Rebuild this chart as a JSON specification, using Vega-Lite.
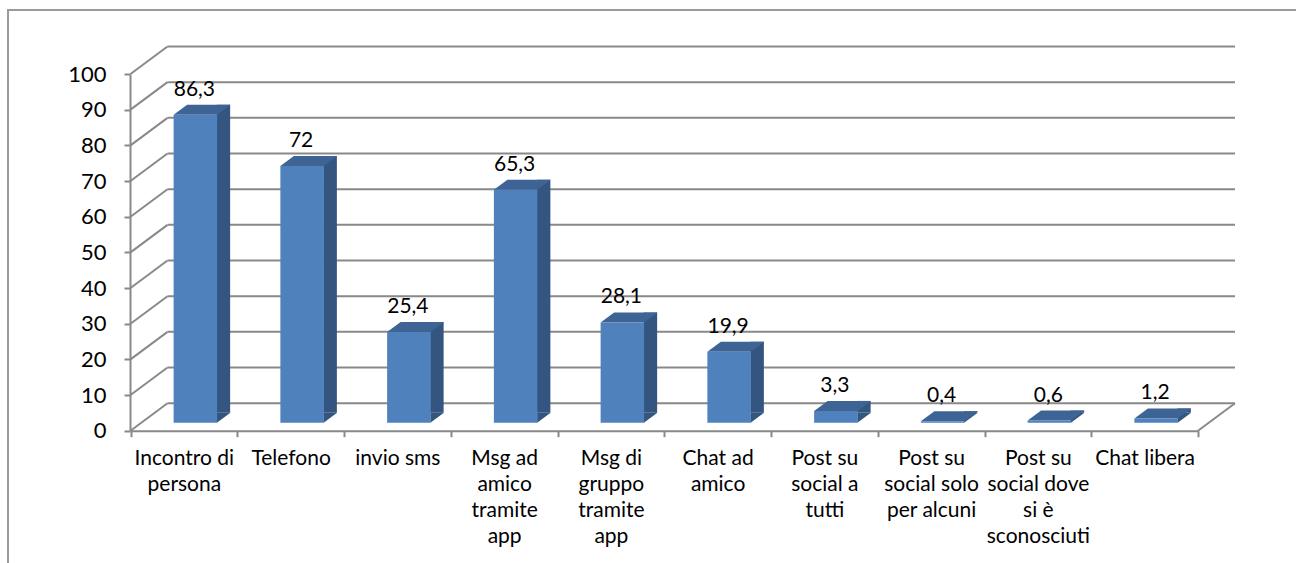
{
  "$schema": "https://vega.github.io/schema/vega-lite/v6.json",
  "width": 1290,
  "height": 556,
  "autosize": {"type": "none"},
  "padding": {"left": 8, "top": 10, "right": 0, "bottom": 0},
  "background": "white",
  "config": {
    "view": {"stroke": "#9a9a9a", "strokeWidth": 2},
    "locale": {"number": {"decimal": ",", "thousands": ".", "grouping": [3], "currency": ["", " €"]}},
    "font": "Lato"
  },
  "datasets": {
    "barre": [
      {"categoria": "Incontro di|persona", "valore": 86.3},
      {"categoria": "Telefono", "valore": 72},
      {"categoria": "invio sms", "valore": 25.4},
      {"categoria": "Msg ad|amico|tramite|app", "valore": 65.3},
      {"categoria": "Msg di|gruppo|tramite|app", "valore": 28.1},
      {"categoria": "Chat ad|amico", "valore": 19.9},
      {"categoria": "Post su|social a|tutti", "valore": 3.3},
      {"categoria": "Post su|social solo|per alcuni", "valore": 0.4},
      {"categoria": "Post su|social dove|si è|sconosciuti", "valore": 0.6},
      {"categoria": "Chat libera", "valore": 1.2}
    ],
    "griglia": [
      {"v": 0}, {"v": 10}, {"v": 20}, {"v": 30}, {"v": 40}, {"v": 50},
      {"v": 60}, {"v": 70}, {"v": 80}, {"v": 90}, {"v": 100}
    ]
  },
  "resolve": {"scale": {"x": "independent"}, "axis": {"y": "independent"}},
  "layer": [
    {
      "data": {"name": "griglia"},
      "layer": [
        {
          "mark": {"type": "rule", "color": "#898989", "strokeWidth": 2, "xOffset": 37, "x2Offset": 37, "yOffset": -27.5},
          "encoding": {
            "x": {"datum": 0, "type": "quantitative", "scale": {"domain": [0, 1], "range": [122.5, 1190]}, "axis": null},
            "x2": {"datum": 1},
            "y": {"field": "v", "type": "quantitative", "scale": {"domain": [0, 100], "range": [420.7, 64]}, "axis": null}
          }
        },
        {
          "mark": {"type": "rule", "color": "#898989", "strokeWidth": 2, "x2Offset": 37, "y2Offset": -27.5},
          "encoding": {
            "x": {"datum": 0, "type": "quantitative", "scale": {"domain": [0, 1], "range": [122.5, 1190]}, "axis": null},
            "x2": {"datum": 0},
            "y": {"field": "v", "type": "quantitative", "scale": {"domain": [0, 100], "range": [420.7, 64]}, "axis": null},
            "y2": {"field": "v"}
          }
        },
        {
          "transform": [{"filter": "datum.v == 0"}],
          "mark": {"type": "rule", "color": "#898989", "strokeWidth": 2, "x2Offset": 37, "y2Offset": -27.5},
          "encoding": {
            "x": {"datum": 1, "type": "quantitative", "scale": {"domain": [0, 1], "range": [122.5, 1190]}, "axis": null},
            "x2": {"datum": 1},
            "y": {"field": "v", "type": "quantitative", "scale": {"domain": [0, 100], "range": [420.7, 64]}, "axis": null},
            "y2": {"field": "v"}
          }
        }
      ]
    },
    {
      "data": {"name": "barre"},
      "encoding": {
        "x": {
          "field": "categoria",
          "type": "nominal",
          "sort": null,
          "scale": {"range": [122.5, 1190], "paddingInner": 0, "paddingOuter": 0},
          "axis": {
            "title": null,
            "labelExpr": "split(datum.label, '|')",
            "labelAngle": 0,
            "labelFont": "Lato",
            "labelFontSize": 21,
            "labelColor": "#000000",
            "labelLineHeight": 26,
            "labelPadding": 11,
            "labelBaseline": "top",
            "labelLimit": 0,
            "tickBand": "extent",
            "tickSize": 6,
            "tickColor": "#898989",
            "tickWidth": 2,
            "domainColor": "#898989",
            "domainWidth": 2,
            "offset": -135.3,
            "grid": false
          }
        },
        "y": {
          "field": "valore",
          "type": "quantitative",
          "scale": {"domain": [0, 100], "range": [420.7, 64]},
          "axis": {
            "title": null,
            "values": [0, 10, 20, 30, 40, 50, 60, 70, 80, 90, 100],
            "labelFont": "Lato",
            "labelFontSize": 22,
            "labelColor": "#000000",
            "labelPadding": 18,
            "tickSize": 6,
            "tickColor": "#898989",
            "tickWidth": 2,
            "domainColor": "#898989",
            "domainWidth": 2,
            "offset": -122,
            "grid": false
          }
        }
      },
      "layer": [
        {
          "mark": {"type": "bar", "width": 13.5, "color": "#34557f", "xOffset": 39.5, "yOffset": -18, "y2Offset": -18}
        },
        {
          "mark": {"type": "point", "shape": "M0,0L0,-10L13.5,-10Z", "size": 4, "filled": true, "opacity": 1, "strokeWidth": 0, "color": "#34557f", "xOffset": 33, "yOffset": -8},
          "encoding": {"y": {"datum": 0}}
        },
        {
          "mark": {"type": "point", "shape": "M-21.75,0L21.75,0L35.25,-10L-8.25,-10Z", "size": 4, "filled": true, "opacity": 1, "strokeWidth": 0, "color": "#3d6494", "xOffset": 11.5, "yOffset": -8}
        },
        {
          "mark": {"type": "bar", "width": 43.5, "color": "#4f81bd", "xOffset": 11.5, "yOffset": -8, "y2Offset": -8}
        },
        {
          "mark": {"type": "text", "font": "Lato", "fontSize": 21, "color": "#000000", "align": "center", "baseline": "alphabetic", "xOffset": 10.5, "yOffset": -27},
          "encoding": {"text": {"field": "valore", "type": "quantitative", "format": ".1~f"}}
        }
      ]
    }
  ]
}
